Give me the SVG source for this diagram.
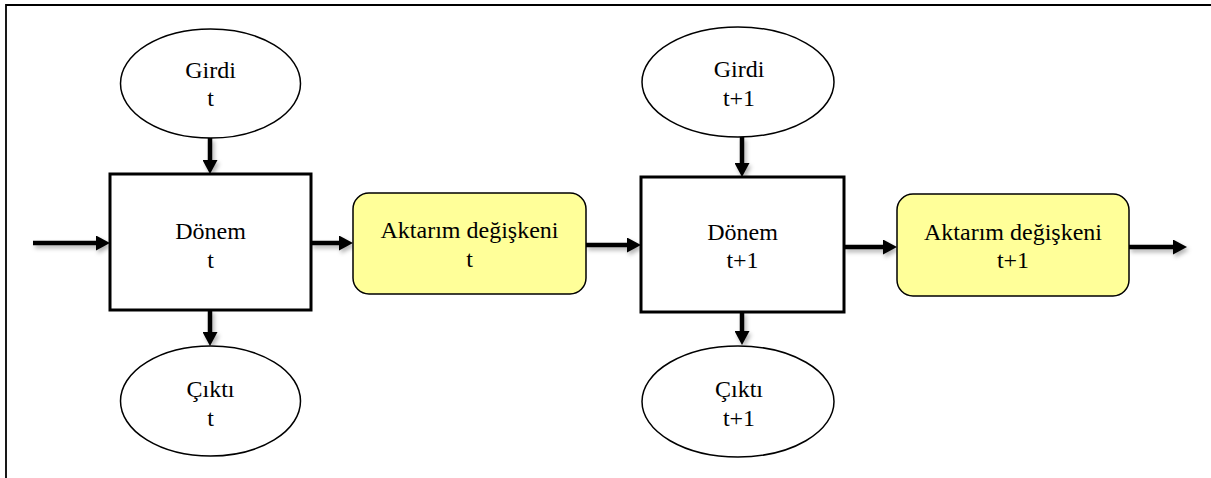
<svg xmlns="http://www.w3.org/2000/svg" width="1211" height="478" viewBox="0 0 1211 478">
  <defs>
    <marker id="head" viewBox="0 0 14 15" refX="1" refY="7.5" markerWidth="14" markerHeight="15" markerUnits="userSpaceOnUse" orient="auto">
      <path d="M0,0 L14,7.5 L0,15 Z" fill="#000"/>
    </marker>
    <filter id="soft" x="-20%" y="-50%" width="140%" height="200%">
      <feDropShadow dx="2" dy="3" stdDeviation="2" flood-color="#000" flood-opacity="0.3"/>
    </filter>
  </defs>

  <rect width="1211" height="478" fill="#fff"/>
  <!-- page frame: only the top and left edges fall inside the view -->
  <path d="M6,478 V5 H1211" fill="none" stroke="#000" stroke-width="1.8"/>

  <g id="connectors" filter="url(#soft)" stroke="#000" stroke-width="4.5" fill="none" marker-end="url(#head)">
    <line x1="33" y1="243" x2="97" y2="243"/>
    <line x1="311" y1="243" x2="340" y2="243"/>
    <line x1="586" y1="245" x2="628" y2="245"/>
    <line x1="844" y1="247" x2="884" y2="247"/>
    <line x1="1129" y1="247" x2="1174" y2="247"/>
    <line x1="210" y1="138" x2="210" y2="161"/>
    <line x1="210" y1="310" x2="210" y2="333"/>
    <line x1="742" y1="137" x2="742" y2="164"/>
    <line x1="742" y1="312" x2="742" y2="332"/>
  </g>

  <g font-family="Liberation Serif" font-size="24" text-anchor="middle" fill="#000">
    <g id="girdi-t">
      <ellipse cx="210.5" cy="83.5" rx="90" ry="54.5" fill="#fff" stroke="#000" stroke-width="1.5"/>
      <text x="210.5" y="78">Girdi</text>
      <text x="210.5" y="106">t</text>
    </g>

    <g id="donem-t">
      <rect x="110" y="174" width="201" height="136" fill="#fff" stroke="#000" stroke-width="3"/>
      <text x="210.5" y="239">Dönem</text>
      <text x="210.5" y="268">t</text>
    </g>

    <g id="cikti-t">
      <ellipse cx="210.5" cy="401" rx="90" ry="55" fill="#fff" stroke="#000" stroke-width="1.5"/>
      <text x="210.5" y="397">Çıktı</text>
      <text x="210.5" y="426">t</text>
    </g>

    <g id="aktarim-t">
      <rect x="353" y="193" width="233" height="101" rx="16" ry="16" fill="#ffff99" stroke="#000" stroke-width="1.5"/>
      <text x="469.5" y="238">Aktarım değişkeni</text>
      <text x="469.5" y="267">t</text>
    </g>

    <g id="girdi-t1">
      <ellipse cx="738" cy="82" rx="96" ry="55" fill="#fff" stroke="#000" stroke-width="1.5"/>
      <text x="739" y="77">Girdi</text>
      <text x="739" y="106">t+1</text>
    </g>

    <g id="donem-t1">
      <rect x="641" y="177" width="203" height="135" fill="#fff" stroke="#000" stroke-width="3"/>
      <text x="742.5" y="240">Dönem</text>
      <text x="742.5" y="268">t+1</text>
    </g>

    <g id="cikti-t1">
      <ellipse cx="738" cy="401.5" rx="96" ry="55.5" fill="#fff" stroke="#000" stroke-width="1.5"/>
      <text x="739" y="397">Çıktı</text>
      <text x="739" y="426">t+1</text>
    </g>

    <g id="aktarim-t1">
      <rect x="897" y="194" width="232" height="102" rx="16" ry="16" fill="#ffff99" stroke="#000" stroke-width="1.5"/>
      <text x="1013" y="240">Aktarım değişkeni</text>
      <text x="1013" y="268">t+1</text>
    </g>
  </g>
</svg>
